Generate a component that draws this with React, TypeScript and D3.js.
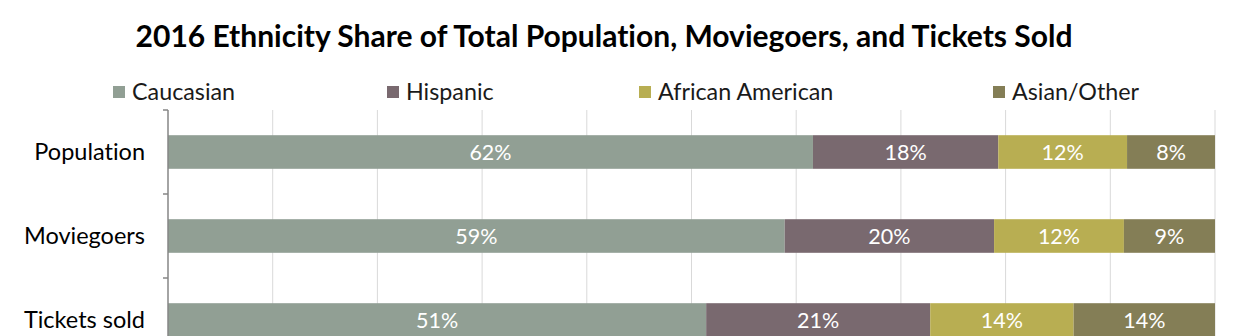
import React from "react";
import * as d3 from "d3";

const categories = ["Population", "Moviegoers", "Tickets sold"];
const seriesNames = ["Caucasian", "Hispanic", "African American", "Asian/Other"];
const caucasian = [61.6, 58.9, 51.4];
const hispanic = [17.7, 20.0, 21.4];
const africanAmerican = [12.3, 12.4, 13.7];
const asianOther = [8.4, 8.7, 13.5];
const colors = ["#919f94", "#79696f", "#b8ae52", "#847e56"];
const xTicks = [0, 10, 20, 30, 40, 50, 60, 70, 80, 90, 100];

const W = 1258;
const H = 336;
const FONT = "Lato, 'Open Sans', sans-serif";

export default function App() {
  const series = [caucasian, hispanic, africanAmerican, asianOther];
  const rows = categories.map((c, i) => {
    const o: any = { cat: c };
    seriesNames.forEach((s, k) => (o[s] = series[k][i]));
    return o;
  });
  const stacked = d3.stack().keys(seriesNames)(rows);

  const x = d3.scaleLinear().domain([0, 100]).range([168, 1215]);
  const y = d3.scaleBand().domain(categories).range([110, 362]).paddingInner(0.6).paddingOuter(0.3);
  const step = y.step();
  const bandStarts = categories.map((c) => (y(c) as number) - (step * y.paddingInner()) / 2);
  const tickYs = [...bandStarts, bandStarts[bandStarts.length - 1] + step];

  const legendX = [113, 387, 639, 993];

  return (
    <svg
      width={W}
      height={H}
      style={{ position: "absolute", left: 0, top: 0, background: "#fff", fontVariantLigatures: "none" }}
      fontFamily={FONT}
    >
      <text x={604} y={47} textAnchor="middle" fontSize={30} fontWeight={700} fill="#000">
        2016 Ethnicity Share of Total Population, Moviegoers, and Tickets Sold
      </text>
      {seriesNames.map((s, k) => (
        <g key={s}>
          <rect x={legendX[k]} y={86} width={12} height={12} fill={colors[k]} />
          <text x={legendX[k] + 19} y={100} fontSize={23.3} fill="#1a1a1a">
            {s}
          </text>
        </g>
      ))}
      {xTicks.slice(1).map((t) => (
        <line key={t} x1={x(t)} x2={x(t)} y1={110} y2={362} stroke="#d9d9d9" strokeWidth={1} />
      ))}
      {stacked.map((layer, k) => (
        <g key={layer.key}>
          {layer.map((d, i) => {
            const x0 = x(d[0]);
            const x1 = x(d[1]);
            const yy = y(categories[i]) as number;
            return (
              <g key={i}>
                <rect x={x0} y={yy} width={x1 - x0} height={y.bandwidth()} fill={colors[k]} />
                <text
                  x={(x0 + x1) / 2}
                  y={yy + y.bandwidth() / 2 + 7.5}
                  textAnchor="middle"
                  fontSize={21.5}
                  fill="#fff"
                >
                  {Math.round(d[1] - d[0])}%
                </text>
              </g>
            );
          })}
        </g>
      ))}
      <line x1={168} x2={168} y1={110} y2={362} stroke="#868686" strokeWidth={1.5} />
      {tickYs.map((t, i) => (
        <line key={i} x1={163} x2={168} y1={t} y2={t} stroke="#868686" strokeWidth={1.5} />
      ))}
      {categories.map((c) => (
        <text
          key={c}
          x={145}
          y={(y(c) as number) + y.bandwidth() / 2 + 8}
          textAnchor="end"
          fontSize={23.5}
          fill="#000"
        >
          {c}
        </text>
      ))}
    </svg>
  );
}
